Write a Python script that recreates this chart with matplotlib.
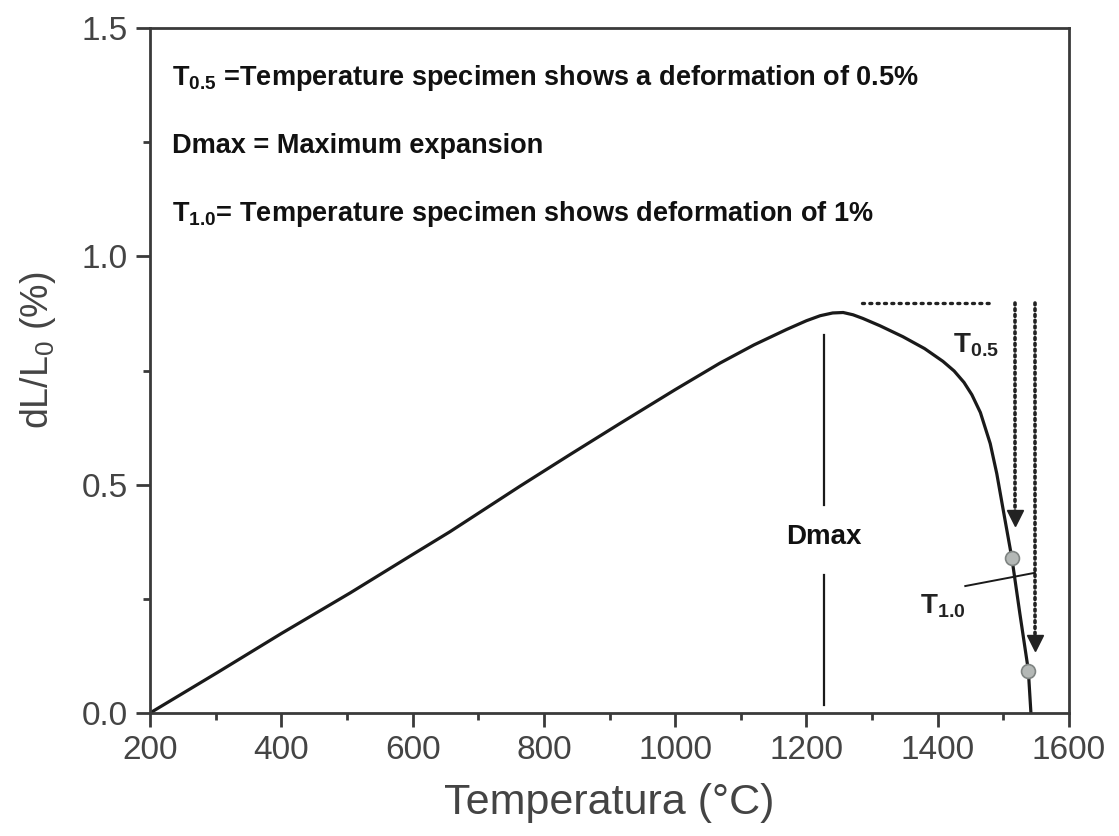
import matplotlib
matplotlib.use("Agg")
import matplotlib.pyplot as plt
from matplotlib.ticker import MultipleLocator, FormatStrFormatter

# ── data ──────────────────────────────────────────────────────────────────────
temp_c = [200, 302, 400, 505, 600, 657, 764, 840, 916, 1000, 1068, 1120, 1170,
          1200, 1221, 1240, 1256, 1271, 1286, 1312, 1347, 1380, 1408, 1425, 1440,
          1452, 1465, 1480, 1490, 1499, 1513, 1525, 1538, 1542]
dl_l0 = [0.0, 0.088, 0.174, 0.263, 0.347, 0.397, 0.497, 0.566, 0.634, 0.708, 0.766,
         0.806, 0.840, 0.859, 0.870, 0.876, 0.877, 0.872, 0.864, 0.848, 0.824, 0.798,
         0.770, 0.749, 0.724, 0.697, 0.658, 0.590, 0.524, 0.451, 0.339, 0.219, 0.094,
         0.0]

dmax_x = 1227
dmax_upper = [0.828, 0.455]
dmax_lower = [0.302, 0.018]
plateau_x = [1285, 1484]
plateau_y = 0.898
t05_x, t05_tip = 1518, 0.416
t10_x, t10_tip = 1548, 0.142
marks_x = [1513, 1537]
marks_y = [0.339, 0.092]
leader_x = [1442, 1548]
leader_y = [0.278, 0.307]

legend_lines = [
    r"T$_\mathregular{0.5}$ =Temperature specimen shows a deformation of 0.5%",
    "Dmax = Maximum expansion",
    r"T$_\mathregular{1.0}$= Temperature specimen shows deformation of 1%",
]
legend_y = [1.375, 1.226, 1.078]

NARROW = ["Liberation Sans Narrow", "Liberation Sans"]
REG = ["Liberation Sans", "DejaVu Sans"]
GREY = "#444444"

# ── figure ────────────────────────────────────────────────────────────────────
fig = plt.figure(figsize=(11.19, 8.36), dpi=100)
ax = fig.add_axes([150 / 1119, 1 - 713 / 836, 919 / 1119, 685 / 836])

ax.plot(temp_c, dl_l0, color="#1a1a1a", lw=2.3, solid_capstyle="round",
        solid_joinstyle="round")

# Dmax marker
ax.plot([dmax_x, dmax_x], dmax_upper, color="#1a1a1a", lw=1.6)
ax.plot([dmax_x, dmax_x], dmax_lower, color="#1a1a1a", lw=1.6)
ax.text(dmax_x, 0.385, "Dmax", ha="center", va="center", fontsize=20,
        fontweight="bold", family=REG, color="#111111")

# dotted guides with arrows
ax.plot(plateau_x, [plateau_y, plateau_y], color="#222222", lw=2.4,
        linestyle=(0, (0.6, 1.6)), dash_capstyle="round")
for x, tip in [(t05_x, t05_tip), (t10_x, t10_tip)]:
    ax.plot([x, x], [plateau_y, tip + 0.02], color="#222222", lw=2.6,
            linestyle=(0, (0.5, 1.1)), dash_capstyle="round")
    ax.plot(x, tip + 0.012, marker="v", ms=11, color="#222222", mec="#222222")

ax.plot(leader_x, leader_y, color="#1a1a1a", lw=1.4)
ax.plot(marks_x, marks_y, "o", ms=10, mfc="#b4b8b6", mec="#7f8482", mew=1.2, zorder=5)

ax.text(1424, 0.806, r"T$_\mathregular{0.5}$", fontsize=20, fontweight="bold",
        family=REG, color="#222222", ha="left", va="center")
ax.text(1373, 0.235, r"T$_\mathregular{1.0}$", fontsize=20, fontweight="bold",
        family=REG, color="#222222", ha="left", va="center")

for txt, y in zip(legend_lines, legend_y):
    ax.text(233, y, txt, fontsize=19.5, fontweight="bold", family=NARROW,
            color="#111111", ha="left", va="baseline")

# axes styling
ax.set_xlim(200, 1600)
ax.set_ylim(0, 1.5)
ax.xaxis.set_major_locator(MultipleLocator(200))
ax.xaxis.set_minor_locator(MultipleLocator(100))
ax.yaxis.set_major_locator(MultipleLocator(0.5))
ax.yaxis.set_minor_locator(MultipleLocator(0.25))
ax.yaxis.set_major_formatter(FormatStrFormatter("%.1f"))

for s in ax.spines.values():
    s.set_linewidth(2.0)
    s.set_color("#3a3a3a")
ax.tick_params(which="major", direction="out", length=10, width=2.0, color="#3a3a3a",
               labelsize=24, labelcolor=GREY, pad=6)
ax.tick_params(which="minor", direction="out", length=5, width=2.0, color="#3a3a3a")
for lab in ax.get_xticklabels() + ax.get_yticklabels():
    lab.set_family(REG)

ax.set_xlabel("Temperatura (°C)", fontsize=31, family=REG, color=GREY, labelpad=12)
ax.set_ylabel(r"dL/L$_\mathregular{0}$ (%)", fontsize=27, family=REG, color=GREY)
ax.yaxis.set_label_coords(-0.10, 0.53)

fig.savefig("out.png", dpi=100)
